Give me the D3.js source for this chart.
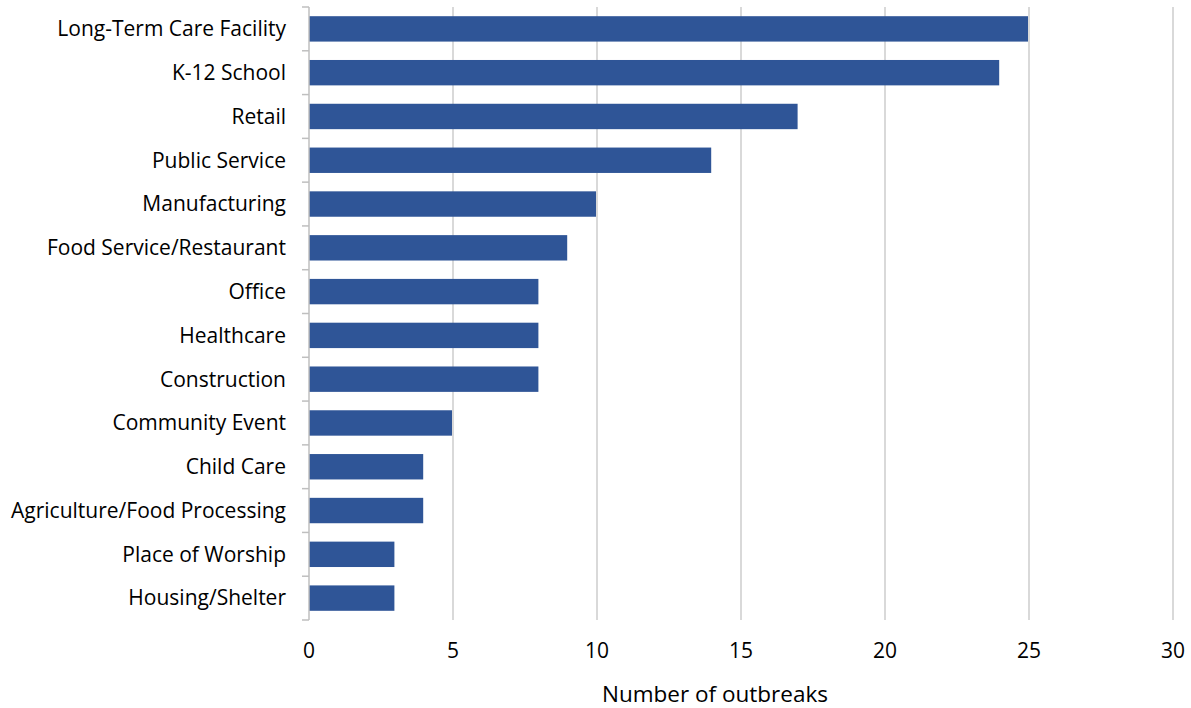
<!DOCTYPE html>
<html><head><meta charset="utf-8">
<script src="https://cdn.jsdelivr.net/npm/d3@7"></script>
<style>body{margin:0;background:#fff}svg{display:block}text{font-family:"Open Sans",sans-serif}</style>
</head><body>
<svg id="c" width="1191" height="708"></svg>
<script>
const categories = ["Long-Term Care Facility","K-12 School","Retail","Public Service","Manufacturing","Food Service/Restaurant","Office","Healthcare","Construction","Community Event","Child Care","Agriculture/Food Processing","Place of Worship","Housing/Shelter"];
const values = [25,24,17,14,10,9,8,8,8,5,4,4,3,3];
const xTicks = [0,5,10,15,20,25,30];
const xTitle = "Number of outbreaks";

const svg = d3.select("#c");
const m = {l:309, r:1173, t:7, b:620};
const x = d3.scaleLinear().domain([0,30]).range([m.l, m.r]);
const y = d3.scaleBand().domain(categories).range([m.t, m.b]).paddingInner(0.42).paddingOuter(0.21);

svg.append("g").selectAll("line").data(xTicks.slice(1)).join("line")
  .attr("x1", d=>x(d)).attr("x2", d=>x(d)).attr("y1", m.t).attr("y2", m.b)
  .attr("stroke", "#d9d9d9").attr("stroke-width", 2);

svg.append("g").selectAll("rect").data(values).join("rect")
  .attr("x", x(0)).attr("y", (d,i)=>y(categories[i]))
  .attr("width", d=>x(d)-x(0)-1).attr("height", y.bandwidth())
  .attr("fill", "#2F5597");

const bounds = d3.range(categories.length+1).map(i=>m.t + i*(m.b-m.t)/categories.length);
svg.append("line").attr("x1", m.l).attr("x2", m.l).attr("y1", m.t).attr("y2", m.b).attr("stroke", "#bfbfbf").attr("stroke-width", 1.5);
svg.append("g").selectAll("line").data(bounds).join("line")
  .attr("x1", m.l-7).attr("x2", m.l).attr("y1", d=>d).attr("y2", d=>d)
  .attr("stroke", "#bfbfbf").attr("stroke-width", 1.5);

svg.append("g").selectAll("text").data(categories).join("text")
  .attr("x", 286).attr("y", d=>y(d)+y.bandwidth()/2).attr("dy", "0.35em")
  .attr("text-anchor", "end").attr("font-size", 21).attr("fill", "#000").text(d=>d);

svg.append("g").selectAll("text").data(xTicks).join("text")
  .attr("x", d=>x(d)).attr("y", 651).attr("dy", "0.35em")
  .attr("text-anchor", "middle").attr("font-size", 21).attr("fill", "#000").text(d=>d);

svg.append("text").attr("x", 715).attr("y", 694).attr("dy","0.35em")
  .attr("text-anchor","middle").attr("font-size", 22.5).attr("fill","#000").text(xTitle);
</script>
</body></html>
